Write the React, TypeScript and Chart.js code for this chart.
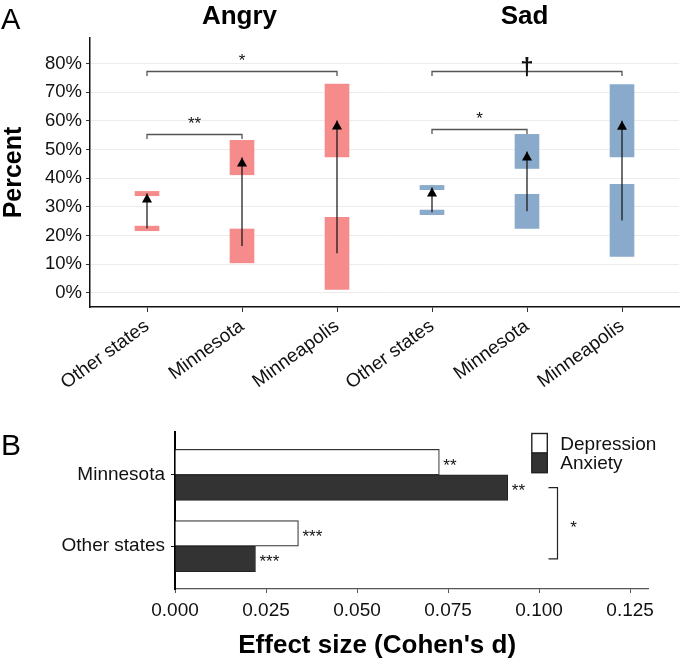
import React, { useEffect, useRef } from 'react';
import { Chart, registerables } from 'chart.js';

Chart.register(...registerables);

const FONT = '"Liberation Sans", Arial, Helvetica, sans-serif';

// ---------- Panel A data ----------
const panelATitles = ['Angry', 'Sad'];
const categoriesA = ['Other states', 'Minnesota', 'Minneapolis', 'Other states', 'Minnesota', 'Minneapolis'];
const groupOfCategory = [0, 0, 0, 1, 1, 1];
const preLow = [21.7, 10.5, 1.2, 27.3, 22.5, 12.7];
const preHigh = [23.3, 22.3, 26.4, 28.9, 34.4, 37.9];
const postLow = [33.9, 41.2, 47.4, 36.0, 43.4, 47.4];
const postHigh = [35.4, 53.2, 72.8, 37.5, 55.3, 72.7];
const yTicksA = [0, 10, 20, 30, 40, 50, 60, 70, 80];
const bracketFrom = [1, 1, 4, 4];
const bracketTo = [2, 3, 5, 6];
const bracketLevel = [55.5, 77.4, 57.3, 77.4];
const bracketLabel = ['**', '*', '*', '†'];

// ---------- Panel B data ----------
const categoriesB = ['Minnesota', 'Other states'];
const seriesNamesB = ['Depression', 'Anxiety'];
const depression = [0.0726, 0.0339];
const anxiety = [0.0914, 0.0221];
const depressionSig = ['**', '***'];
const anxietySig = ['**', '***'];
const xTicksB = [0, 0.025, 0.05, 0.075, 0.1, 0.125];
const groupBracketValue = 0.105;
const groupBracketLabel = '*';

const GROUP_COLORS = ['#F58B8A', '#89AACB'];

const mid = (a: number, b: number) => (a + b) / 2;

const panelAPlugin = {
  id: 'panelAExtras',
  afterDatasetsDraw(chart: any) {
    const { ctx, scales } = chart;
    const x = scales.x;
    const y = scales.y;
    ctx.save();
    // arrow heads
    ctx.fillStyle = '#000';
    categoriesA.forEach((_, i) => {
      const px = x.getPixelForValue(i + 1);
      const tip = y.getPixelForValue(mid(postLow[i], postHigh[i]));
      ctx.beginPath();
      ctx.moveTo(px, tip);
      ctx.lineTo(px - 5, tip + 9);
      ctx.lineTo(px + 5, tip + 9);
      ctx.closePath();
      ctx.fill();
    });
    // brackets
    bracketFrom.forEach((from, k) => {
      const x1 = x.getPixelForValue(from);
      const x2 = x.getPixelForValue(bracketTo[k]);
      const yb = Math.round(y.getPixelForValue(bracketLevel[k])) + 0.5;
      ctx.strokeStyle = '#555';
      ctx.lineWidth = 1.3;
      ctx.beginPath();
      ctx.moveTo(x1, yb + 4.5);
      ctx.lineTo(x1, yb);
      ctx.lineTo(x2, yb);
      ctx.lineTo(x2, yb + 4.5);
      ctx.stroke();
      ctx.fillStyle = '#111';
      ctx.textAlign = 'center';
      ctx.textBaseline = 'alphabetic';
      const cx = (x1 + x2) / 2;
      if (bracketLabel[k] === '†') {
        ctx.font = `bold 24px ${FONT}`;
        ctx.fillText(bracketLabel[k], cx, yb + 3);
      } else {
        ctx.font = `17px ${FONT}`;
        ctx.fillText(bracketLabel[k], cx, yb - 6);
      }
    });
    ctx.restore();
  },
  afterDraw(chart: any) {
    const { ctx, scales } = chart;
    const x = scales.x;
    ctx.save();
    ctx.fillStyle = '#000';
    ctx.textBaseline = 'alphabetic';
    ctx.textAlign = 'center';
    ctx.font = `bold 26px ${FONT}`;
    panelATitles.forEach((t, g) => {
      const idx = groupOfCategory.map((gg, i) => (gg === g ? i + 1 : null)).filter((v) => v !== null) as number[];
      const c = mid(x.getPixelForValue(idx[0]), x.getPixelForValue(idx[idx.length - 1])) - 2.5;
      ctx.fillText(t, c, 24);
    });
    ctx.textAlign = 'left';
    ctx.font = `29px ${FONT}`;
    ctx.fillText('A', 1, 28.5);
    ctx.restore();
  },
};

const panelBPlugin = {
  id: 'panelBExtras',
  afterDatasetsDraw(chart: any) {
    const { ctx, scales, chartArea } = chart;
    const x = scales.x;
    ctx.save();
    // significance labels
    ctx.fillStyle = '#111';
    ctx.font = `17px ${FONT}`;
    ctx.textAlign = 'left';
    ctx.textBaseline = 'alphabetic';
    [depressionSig, anxietySig].forEach((sigs, d) => {
      const meta = chart.getDatasetMeta(d);
      sigs.forEach((s, i) => {
        const el = meta.data[i];
        ctx.fillText(s, el.x + 4, el.y + 8.5);
      });
    });
    // group bracket between anxiety bars
    const anx = chart.getDatasetMeta(1).data;
    const bx = Math.round(x.getPixelForValue(groupBracketValue)) + 0.5;
    const y0 = anx[0].y;
    const y1 = anx[1].y;
    ctx.strokeStyle = '#222';
    ctx.lineWidth = 1.2;
    ctx.beginPath();
    ctx.moveTo(bx - 9, y0);
    ctx.lineTo(bx, y0);
    ctx.lineTo(bx, y1);
    ctx.lineTo(bx - 9, y1);
    ctx.stroke();
    ctx.textAlign = 'center';
    ctx.fillText(groupBracketLabel, bx + 16, mid(y0, y1) + 9.5);

    // legend
    const lx = chartArea.right - 116.5;
    let ly = chartArea.top + 1.5;
    const bw = 15.5;
    const bh = 19.6;
    chart.data.datasets.forEach((ds: any) => {
      ctx.fillStyle = ds.backgroundColor;
      ctx.fillRect(lx, ly, bw, bh);
      ctx.strokeStyle = '#222';
      ctx.lineWidth = 1.4;
      ctx.strokeRect(lx, ly, bw, bh);
      ctx.fillStyle = '#111';
      ctx.font = `19px ${FONT}`;
      ctx.textAlign = 'left';
      ctx.textBaseline = 'middle';
      ctx.fillText(ds.label, lx + 28.5, ly + bh / 2 + 1);
      ly += bh;
    });
    ctx.restore();
  },
  afterDraw(chart: any) {
    const { ctx, chartArea } = chart;
    ctx.save();
    ctx.fillStyle = '#000';
    ctx.textBaseline = 'alphabetic';
    ctx.textAlign = 'center';
    ctx.font = `bold 26px ${FONT}`;
    ctx.fillText("Effect size (Cohen's d)", mid(chartArea.left, chartArea.right) - 34.5, 253);
    ctx.textAlign = 'left';
    ctx.font = `30px ${FONT}`;
    ctx.fillText('B', 1, 55);
    ctx.restore();
  },
};

export default function App() {
  const refA = useRef<HTMLCanvasElement>(null);
  const refB = useRef<HTMLCanvasElement>(null);

  useEffect(() => {
    Chart.defaults.font.family = FONT;
    const colorsA = categoriesA.map((_, i) => GROUP_COLORS[groupOfCategory[i]]);
    const shaft: any[] = [];
    categoriesA.forEach((_, i) => {
      shaft.push({ x: i + 1, y: mid(preLow[i], preHigh[i]) });
      shaft.push({ x: i + 1, y: mid(postLow[i], postHigh[i]) });
      shaft.push({ x: i + 1, y: null });
    });

    const chartA = new Chart(refA.current as HTMLCanvasElement, {
      type: 'bar',
      data: {
        datasets: [
          {
            type: 'line',
            label: 'change',
            data: shaft,
            borderColor: '#111',
            borderWidth: 1.2,
            pointRadius: 0,
            spanGaps: false,
            order: 0,
          } as any,
          {
            type: 'bar',
            label: 'before',
            data: categoriesA.map((_, i) => ({ x: i + 1, y: [preLow[i], preHigh[i]] })),
            backgroundColor: colorsA,
            borderWidth: 0,
            grouped: false,
            barThickness: 24,
            order: 1,
          } as any,
          {
            type: 'bar',
            label: 'after',
            data: categoriesA.map((_, i) => ({ x: i + 1, y: [postLow[i], postHigh[i]] })),
            backgroundColor: colorsA,
            borderWidth: 0,
            grouped: false,
            barThickness: 24,
            order: 1,
          } as any,
        ],
      },
      options: {
        responsive: false,
        animation: false,
        events: [],
        layout: { padding: { top: 38, right: 1, left: 0, bottom: 0 } },
        plugins: { legend: { display: false }, tooltip: { enabled: false } },
        scales: {
          x: {
            type: 'linear',
            min: 0.4,
            max: 6.6,
            offset: false,
            afterBuildTicks: (s: any) => {
              s.ticks = categoriesA.map((_, i) => ({ value: i + 1 }));
            },
            afterFit: (s: any) => {
              s.height = 93;
            },
            ticks: {
              autoSkip: false,
              minRotation: 36,
              maxRotation: 36,
              padding: 3,
              color: '#111',
              font: { size: 19 },
              callback: (v: any) => categoriesA[Math.round(v) - 1],
            },
            grid: { display: true, drawOnChartArea: false, offset: false, tickLength: 5, tickColor: '#333' },
            border: { display: true, color: '#111', width: 1.5 },
          },
          y: {
            type: 'linear',
            min: -4.9,
            max: 88.9,
            afterBuildTicks: (s: any) => {
              s.ticks = yTicksA.map((v) => ({ value: v }));
            },
            afterFit: (s: any) => {
              s.width = 90;
            },
            ticks: {
              padding: 4,
              color: '#111',
              font: { size: 18.5 },
              callback: (v: any) => `${v}%`,
            },
            grid: { color: '#ececec', lineWidth: 1, tickLength: 4, tickColor: '#333' },
            border: { display: true, color: '#111', width: 1.5 },
            title: {
              display: true,
              text: 'Percent',
              color: '#000',
              padding: 0,
              font: { size: 25, weight: 'bold', lineHeight: 1.1 },
            },
          },
        },
      } as any,
      plugins: [panelAPlugin],
    });

    const chartB = new Chart(refB.current as HTMLCanvasElement, {
      type: 'bar',
      data: {
        datasets: [
          {
            label: seriesNamesB[0],
            data: categoriesB.map((_, i) => ({ x: depression[i], y: i + 1 })),
            backgroundColor: '#ffffff',
            borderColor: '#333333',
            borderWidth: 1.2,
            barThickness: 25.5,
          },
          {
            label: seriesNamesB[1],
            data: categoriesB.map((_, i) => ({ x: anxiety[i], y: i + 1 })),
            backgroundColor: '#333333',
            borderColor: '#222222',
            borderWidth: 1,
            barThickness: 25.5,
          },
        ] as any,
      },
      options: {
        indexAxis: 'y',
        responsive: false,
        animation: false,
        events: [],
        layout: { padding: { top: 32, right: 31.7, left: 0, bottom: 0 } },
        plugins: { legend: { display: false }, tooltip: { enabled: false } },
        scales: {
          x: {
            type: 'linear',
            min: 0,
            max: 0.13,
            afterBuildTicks: (s: any) => {
              s.ticks = xTicksB.map((v) => ({ value: v }));
            },
            afterFit: (s: any) => {
              s.height = 77;
            },
            ticks: {
              autoSkip: false,
              maxRotation: 0,
              padding: 6,
              color: '#111',
              font: { size: 19 },
              callback: (v: any) => Number(v).toFixed(3),
            },
            grid: { display: true, drawOnChartArea: false, offset: false, tickLength: 4, tickColor: '#555' },
            border: { display: true, color: '#555', width: 1.2 },
          },
          y: {
            type: 'linear',
            min: 0.4,
            max: 2.6,
            reverse: true,
            offset: false,
            afterBuildTicks: (s: any) => {
              s.ticks = categoriesB.map((_, i) => ({ value: i + 1 }));
            },
            afterFit: (s: any) => {
              s.width = 175;
            },
            ticks: {
              autoSkip: false,
              padding: 6,
              color: '#111',
              font: { size: 19 },
              callback: (v: any) => categoriesB[Math.round(v) - 1],
            },
            grid: { display: true, drawOnChartArea: false, offset: false, tickLength: 4, tickColor: '#111' },
            border: { display: true, color: '#000', width: 2 },
          },
        },
      } as any,
      plugins: [panelBPlugin],
    });

    return () => {
      chartA.destroy();
      chartB.destroy();
    };
  }, []);

  return (
    <div style={{ position: 'absolute', left: 0, top: 0, width: 680, height: 666, background: '#fff' }}>
      <canvas ref={refA} width={680} height={400} style={{ display: 'block', width: 680, height: 400 }} />
      <canvas ref={refB} width={680} height={266} style={{ display: 'block', width: 680, height: 266 }} />
    </div>
  );
}
